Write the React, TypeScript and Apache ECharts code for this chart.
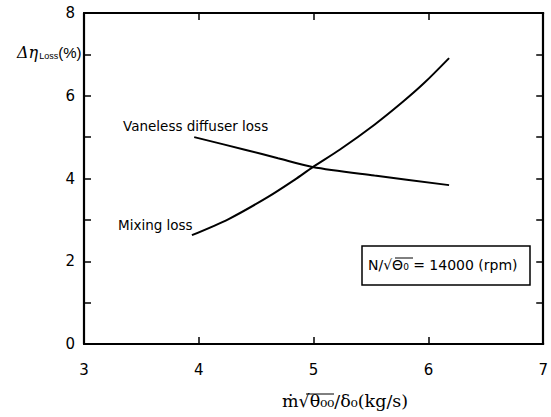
import React, { useEffect, useRef } from "react";
import * as echarts from "echarts";

// Mass-flow parameter (kg/s) and loss values (%)
const mixingX = [3.94, 4.26, 4.6, 4.84, 4.99, 5.23, 5.53, 5.78, 5.96, 6.18];
const mixingY = [2.63, 3.02, 3.55, 3.98, 4.27, 4.7, 5.3, 5.86, 6.3, 6.91];
const diffuserX = [3.96, 4.41, 4.69, 4.99, 5.53, 6.18];
const diffuserY = [5.0, 4.69, 4.49, 4.28, 4.07, 3.84];
const xTicks = [3, 4, 5, 6, 7];
const yTicks = [0, 2, 4, 6, 8];

const SANS = "'Liberation Sans', Arial, sans-serif";
const WIDE = "'DejaVu Sans', sans-serif";
const SERIF = "'DejaVu Serif', 'Liberation Serif', serif";

export default function App() {
  const ref = useRef<HTMLDivElement>(null);

  useEffect(() => {
    if (!ref.current) return;
    const chart = echarts.init(ref.current, null, { renderer: "svg" });
    const axisLine = { show: true, onZero: false, lineStyle: { color: "#000", width: 2.2 } };
    const tick = { show: true, inside: true, length: 7, lineStyle: { color: "#000", width: 1.5 } };
    const pair = (xs: number[], ys: number[]) => xs.map((x, i) => [x, ys[i]]);

    chart.setOption({
      animation: false,
      backgroundColor: "#fff",
      grid: { left: 84, right: 3, top: 13, bottom: 73 },
      xAxis: [
        {
          type: "value",
          min: xTicks[0],
          max: xTicks[xTicks.length - 1],
          interval: 1,
          axisLine,
          axisTick: tick,
          splitLine: { show: false },
          axisLabel: { color: "#000", fontSize: 15, fontFamily: WIDE, margin: 18 },
        },
        {
          type: "value",
          position: "top",
          min: xTicks[0],
          max: xTicks[xTicks.length - 1],
          interval: 1,
          axisLine,
          axisTick: tick,
          splitLine: { show: false },
          axisLabel: { show: false },
        },
      ],
      yAxis: [
        {
          type: "value",
          min: yTicks[0],
          max: yTicks[yTicks.length - 1],
          interval: 1,
          axisLine,
          axisTick: tick,
          splitLine: { show: false },
          axisLabel: {
            color: "#000",
            fontSize: 15,
            fontFamily: WIDE,
            margin: 9,
            formatter: (v: number) => (yTicks.includes(v) ? String(v) : ""),
          },
        },
        {
          type: "value",
          position: "right",
          min: yTicks[0],
          max: yTicks[yTicks.length - 1],
          interval: 1,
          axisLine,
          axisTick: tick,
          splitLine: { show: false },
          axisLabel: { show: false },
        },
      ],
      series: [
        {
          name: "Mixing loss",
          type: "line",
          smooth: 0.3,
          showSymbol: false,
          data: pair(mixingX, mixingY),
          lineStyle: { color: "#000", width: 2 },
        },
        {
          name: "Vaneless diffuser loss",
          type: "line",
          smooth: 0.3,
          showSymbol: false,
          data: pair(diffuserX, diffuserY),
          lineStyle: { color: "#000", width: 2 },
        },
      ],
      graphic: [
        {
          type: "text",
          left: 17,
          top: 44,
          style: {
            text: "{d|Δη}{s|Loss}{p|(%)}",
            rich: {
              d: { fontSize: 16, fontStyle: "italic", fontFamily: SERIF, fill: "#000" },
              s: { fontSize: 9, fontFamily: SANS, fill: "#000", padding: [8, 0, 0, 1] },
              p: { fontSize: 15, fontFamily: SANS, fill: "#000" },
            },
          },
        },
        {
          type: "text",
          left: 123,
          top: 119,
          style: { text: "Vaneless diffuser loss", fontSize: 13.5, fontFamily: WIDE, fill: "#000" },
        },
        {
          type: "text",
          left: 118,
          top: 218,
          style: { text: "Mixing loss", fontSize: 13.5, fontFamily: WIDE, fill: "#000" },
        },
        {
          type: "rect",
          shape: { x: 362, y: 246, width: 168, height: 39 },
          style: { fill: "#fff", stroke: "#000", lineWidth: 1.5 },
        },
        {
          type: "text",
          left: 368,
          top: 258,
          style: {
            text: "N/√Θ₀ = 14000 (rpm)",
            fontSize: 14,
            fontFamily: WIDE,
            fill: "#000",
          },
        },
        {
          type: "line",
          shape: { x1: 395, y1: 258, x2: 413, y2: 258 },
          style: { stroke: "#000", lineWidth: 1 },
        },
        {
          type: "text",
          left: 282,
          top: 392,
          style: {
            text: "ṁ√θ₀₀/δ₀(kg/s)",
            fontSize: 17.5,
            fontFamily: SERIF,
            fill: "#000",
          },
        },
        {
          type: "line",
          shape: { x1: 306, y1: 394, x2: 334, y2: 394 },
          style: { stroke: "#000", lineWidth: 1 },
        },
      ],
    });
    return () => chart.dispose();
  }, []);

  return (
    <div
      ref={ref}
      style={{ position: "fixed", left: 0, top: 0, width: 551, height: 417 }}
    />
  );
}
